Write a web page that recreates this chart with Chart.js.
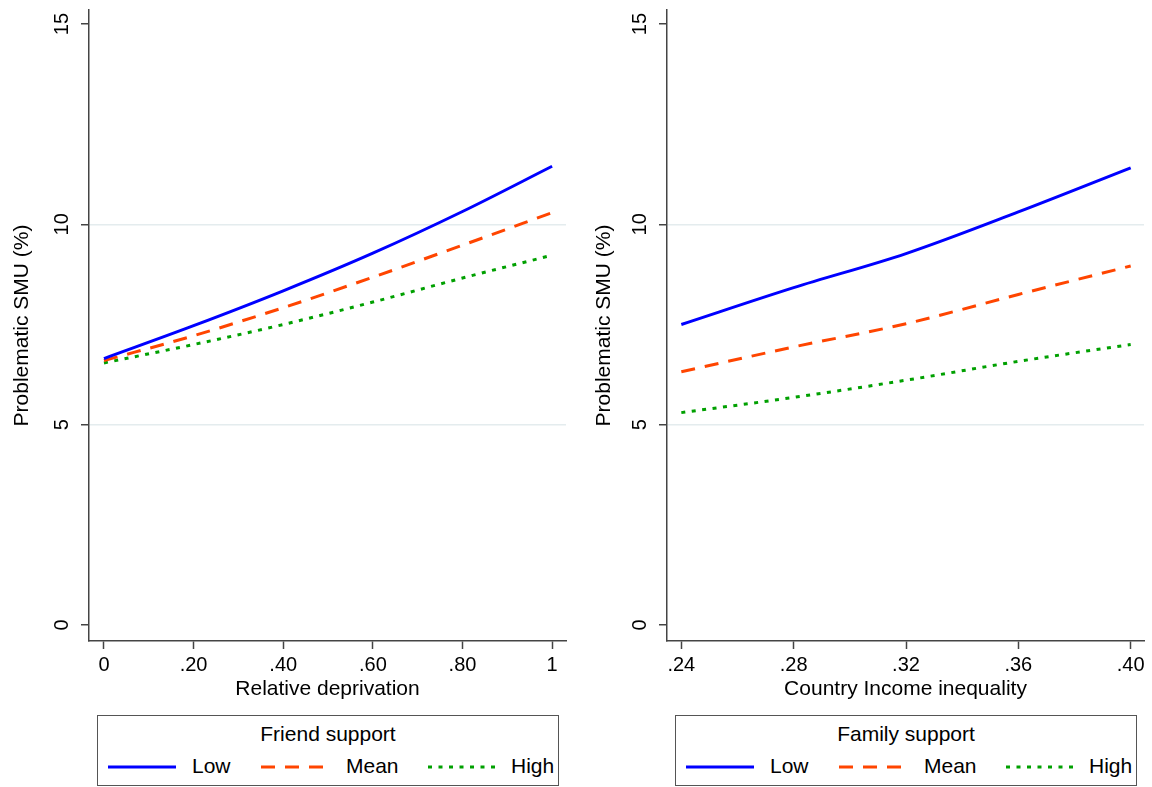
<!DOCTYPE html>
<html>
<head>
<meta charset="utf-8">
<script src="https://cdn.jsdelivr.net/npm/chart.js@4/dist/chart.umd.min.js"></script>
<style>
  html, body { margin: 0; padding: 0; background: #fff; }
  body { width: 1152px; height: 787px; position: relative; overflow: hidden;
         font-family: "Liberation Sans", Arial, Helvetica, sans-serif; }
  .panel { position: absolute; top: 0; width: 576px; height: 710px; }
  .legend { position: absolute; top: 715px; height: 71px; width: 462px; box-sizing: border-box;
            border: 1.5px solid #555; background: #fff; }
  .legend .ttl { position: absolute; left: 0; right: 0; top: 6px; text-align: center; font-size: 21px; color: #000; }
  .legend .item { position: absolute; top: 37px; font-size: 21px; color: #000; line-height: 26px; }
  .legend svg { position: absolute; top: 48px; }
</style>
</head>
<body>
<div class="panel" style="left:0"><canvas id="c1" width="576" height="710"></canvas></div>
<div class="panel" style="left:576px"><canvas id="c2" width="576" height="710"></canvas></div>

<div class="legend" id="lg1" style="left:97px"></div>
<div class="legend" id="lg2" style="left:675px"></div>

<script>
// ---- data ----
const deprivationX = [0, 0.2, 0.4, 0.6, 0.8, 1];
const friendLow  = [6.65, 7.47, 8.34, 9.28, 10.32, 11.45];
const friendMean = [6.60, 7.22, 7.92, 8.68, 9.48, 10.29];
const friendHigh = [6.54, 7.00, 7.50, 8.06, 8.66, 9.23];

const inequalityX = [0.24, 0.28, 0.32, 0.36, 0.40];
const familyLow  = [7.50, 8.42, 9.27, 10.31, 11.41];
const familyMean = [6.32, 6.94, 7.52, 8.25, 8.96];
const familyHigh = [5.30, 5.68, 6.11, 6.58, 7.00];

const yTicks = [0, 5, 10, 15];
const yTickLabels = ['0', '5', '10', '15'];
const leftXTicks = [0, 0.2, 0.4, 0.6, 0.8, 1];
const leftXTickLabels = ['0', '.20', '.40', '.60', '.80', '1'];
const rightXTicks = [0.24, 0.28, 0.32, 0.36, 0.40];
const rightXTickLabels = ['.24', '.28', '.32', '.36', '.40'];

const seriesNames = ['Low', 'Mean', 'High'];
const yTitle = 'Problematic SMU (%)';
const leftXTitle = 'Relative deprivation';
const rightXTitle = 'Country Income inequality';
const leftLegendTitle = 'Friend support';
const rightLegendTitle = 'Family support';

// ---- styles ----
const FONT = '"Liberation Sans", Arial, Helvetica, sans-serif';
const colors = ['#0000ff', '#ff4500', '#00a000'];
const dashes = [[], [14, 10], [4, 6.5]];
const AXIS = '#444';

function pts(xs, ys) { return xs.map((x, i) => ({x: x, y: ys[i]})); }

function makeChart(id, xs, lists, xTicks, xLabels, xTitle, xmin, xmax, yAxisWidth, yTitlePad) {
  const datasets = lists.map((ys, i) => ({
    label: seriesNames[i],
    data: pts(xs, ys),
    borderColor: colors[i],
    borderWidth: 3,
    borderDash: dashes[i],
    pointRadius: 0,
    fill: false,
    cubicInterpolationMode: 'monotone'
  }));
  return new Chart(document.getElementById(id), {
    type: 'line',
    data: { datasets },
    options: {
      responsive: false,
      animation: false,
      devicePixelRatio: 1,
      layout: { padding: { left: 0, right: 576 - yAxisWidth - 477, top: 10, bottom: 0 } },
      plugins: { legend: { display: false }, tooltip: { enabled: false } },
      scales: {
        x: {
          type: 'linear', min: xmin, max: xmax,
          afterBuildTicks: s => { s.ticks = xTicks.map(v => ({value: v})); },
          afterFit: s => { s.height = 69; s.paddingLeft = 0; s.paddingRight = 0; },
          ticks: {
            autoSkip: false, maxRotation: 0, minRotation: 0, padding: 4,
            color: '#000', font: { family: FONT, size: 20 },
            callback: (v) => { const k = xTicks.findIndex(t => Math.abs(t - v) < 1e-9); return k >= 0 ? xLabels[k] : ''; }
          },
          grid: { drawOnChartArea: false, drawTicks: true, tickLength: 8, tickColor: AXIS, tickWidth: 1.5 },
          border: { display: true, color: AXIS, width: 1.5 },
          title: { display: true, text: xTitle, color: '#000', font: { family: FONT, size: 21 }, padding: { top: 0, bottom: 8 } }
        },
        y: {
          type: 'linear', min: -0.4, max: 15.35,
          afterBuildTicks: s => { s.ticks = yTicks.map(v => ({value: v})); },
          afterFit: s => { s.width = yAxisWidth; s.paddingTop = 0; s.paddingBottom = 0; },
          ticks: {
            autoSkip: false, minRotation: 90, maxRotation: 90, crossAlign: 'center', padding: 7,
            color: '#000', font: { family: FONT, size: 20 },
            callback: (v) => { const k = yTicks.indexOf(v); return k >= 0 ? yTickLabels[k] : ''; }
          },
          grid: {
            drawOnChartArea: true, drawTicks: true, tickLength: 8, tickWidth: 1.5,
            color: c => (c.tick && (c.tick.value === 5 || c.tick.value === 10)) ? '#e4ecee' : 'rgba(0,0,0,0)',
            lineWidth: 1.5,
            tickColor: AXIS
          },
          border: { display: true, color: AXIS, width: 1.5 },
          title: { display: true, text: yTitle, color: '#000', font: { family: FONT, size: 21 }, padding: { top: yTitlePad, bottom: 0 } }
        }
      }
    }
  });
}

makeChart('c1', deprivationX, [friendLow, friendMean, friendHigh], leftXTicks, leftXTickLabels, leftXTitle, -0.0334, 1.031, 89, 10);
makeChart('c2', inequalityX, [familyLow, familyMean, familyHigh], rightXTicks, rightXTickLabels, rightXTitle, 0.2349, 0.40474, 91, 16);

// ---- legends ----
function buildLegend(id, title) {
  const el = document.getElementById(id);
  const t = document.createElement('div'); t.className = 'ttl'; t.textContent = title; el.appendChild(t);
  const sampleX = [10, 163, 330];
  const textX = [94, 248, 413];
  seriesNames.forEach((name, i) => {
    const svg = document.createElementNS('http://www.w3.org/2000/svg', 'svg');
    svg.setAttribute('width', '70'); svg.setAttribute('height', '6');
    svg.style.left = sampleX[i] + 'px';
    const ln = document.createElementNS('http://www.w3.org/2000/svg', 'line');
    ln.setAttribute('x1', '0'); ln.setAttribute('x2', '68'); ln.setAttribute('y1', '3'); ln.setAttribute('y2', '3');
    ln.setAttribute('stroke', colors[i]); ln.setAttribute('stroke-width', '3');
    if (dashes[i].length) ln.setAttribute('stroke-dasharray', dashes[i].join(' '));
    svg.appendChild(ln); el.appendChild(svg);
    const tx = document.createElement('div'); tx.className = 'item'; tx.textContent = name;
    tx.style.left = textX[i] + 'px'; el.appendChild(tx);
  });
}
buildLegend('lg1', leftLegendTitle);
buildLegend('lg2', rightLegendTitle);
</script>
</body>
</html>
